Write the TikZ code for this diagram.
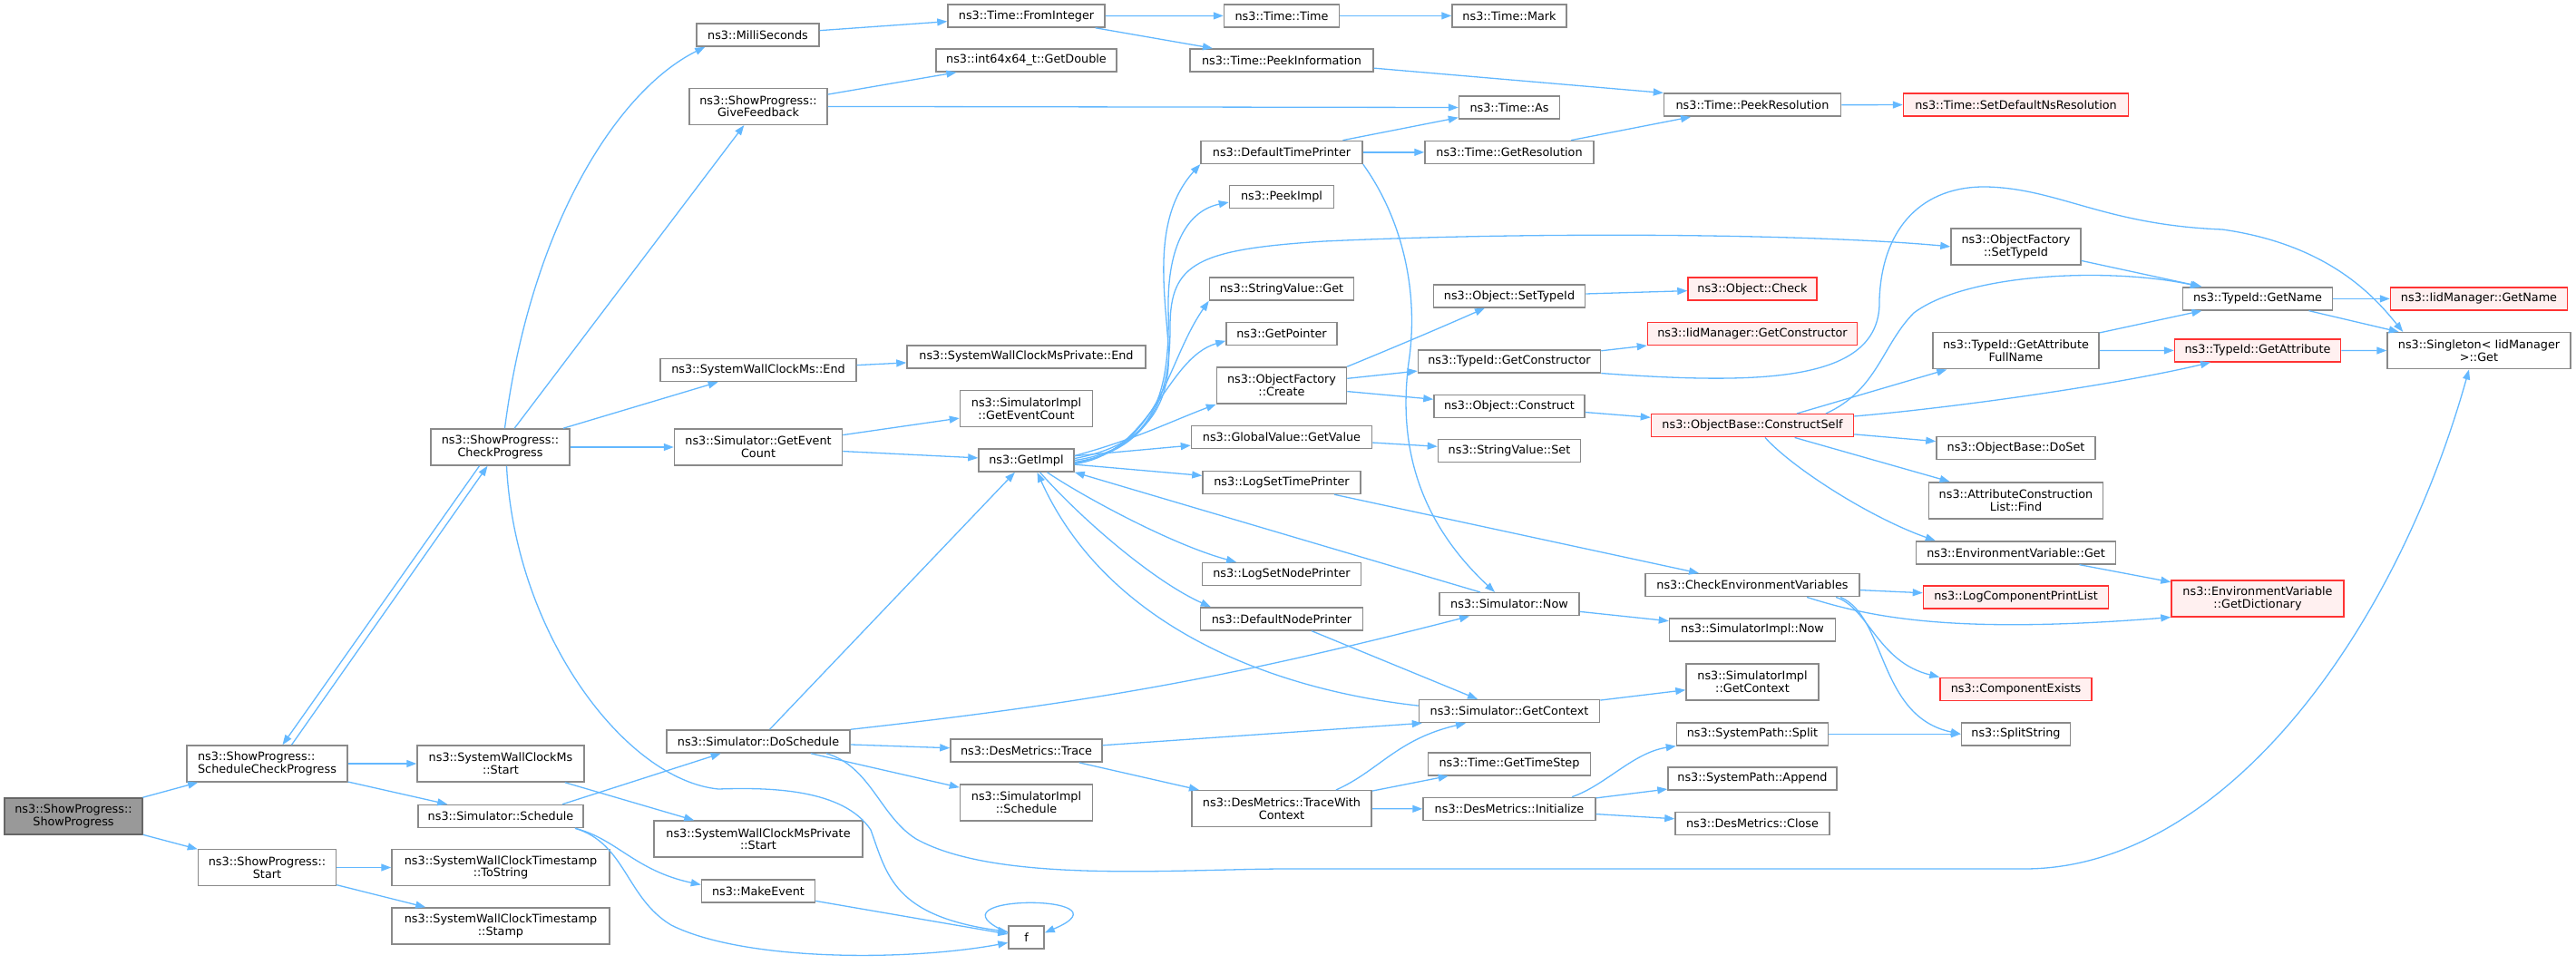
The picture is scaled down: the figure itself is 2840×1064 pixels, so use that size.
\documentclass[tikz,border=0pt]{standalone}
\usepackage{fontspec}
\setmainfont{DejaVu Sans}
\usepackage{xcolor}
\usepackage{tikz}
\usetikzlibrary{arrows.meta}
\definecolor{edgeblue}{HTML}{63B8FF}
\definecolor{boxgray}{HTML}{8A8A8A}
\definecolor{extred}{HTML}{FF3333}
\definecolor{extfill}{HTML}{FFF0F0}
\definecolor{focusfill}{HTML}{999999}
\definecolor{focusline}{HTML}{666666}

\begin{document}
\begin{tikzpicture}[x=1pt, y=-1pt,
  every node/.style={rectangle, draw=boxgray, line width=1.5pt, fill=white, align=center, minimum height=25pt, inner sep=2pt, font=\fontsize{12.8}{13.6}\selectfont},
  two/.style={minimum height=40pt},
  ext/.style={draw=extred, fill=extfill},
  focus/.style={draw=focusline, fill=focusfill},
  call/.style={draw=edgeblue, line width=1.3pt, -{Triangle[length=11pt,width=8pt]}}]
    \useasboundingbox (0,0) rectangle (2840,1064);

    \node [focus, two, minimum width=152pt] (root) at (81,900) {ns3::ShowProgress::\\ShowProgress};
    \node [two, minimum width=177pt, align=left] (scp) at (294.5,842) {ns3::ShowProgress::\\ScheduleCheckProgress};
    \node [two, minimum width=152pt] (start) at (294.5,956.5) {ns3::ShowProgress::\\Start};
    \node [two, minimum width=153pt] (check) at (551.5,493) {ns3::ShowProgress::\\CheckProgress};
    \node [two, minimum width=184pt] (swcms) at (552,842) {ns3::SystemWallClockMs\\::Start};
    \node [minimum width=182pt] (sched) at (552,900) {ns3::Simulator::Schedule};
    \node [two, minimum width=240pt] (tostr) at (552,956.5) {ns3::SystemWallClockTimestamp\\::ToString};
    \node [two, minimum width=240pt] (stamp) at (552,1021) {ns3::SystemWallClockTimestamp\\::Stamp};

    \node [minimum width=135pt] (milli) at (835.5,38.5) {ns3::MilliSeconds};
    \node [two, minimum width=152pt] (givefb) at (836,117.3) {ns3::ShowProgress::\\GiveFeedback};
    \node [minimum width=216pt] (swcend) at (836,408) {ns3::SystemWallClockMs::End};
    \node [two, minimum width=185pt] (getevc) at (836,493) {ns3::Simulator::GetEvent\\Count};
    \node [minimum width=202pt] (doschd) at (836,817.5) {ns3::Simulator::DoSchedule};
    \node [two, minimum width=230pt] (swcpstart) at (836,925.2) {ns3::SystemWallClockMsPrivate\\::Start};
    \node [minimum width=125pt] (mkevent) at (836,982.5) {ns3::MakeEvent};

    \node [minimum width=173pt] (fromint) at (1131.5,17.5) {ns3::Time::FromInteger};
    \node [minimum width=199pt] (getdbl) at (1131.5,66.5) {ns3::int64x64\_t::GetDouble};
    \node [minimum width=263pt] (swcpend) at (1131.5,393.4) {ns3::SystemWallClockMsPrivate::End};
    \node [two, minimum width=146pt] (simgetevc) at (1131.5,450.5) {ns3::SimulatorImpl\\::GetEventCount};
    \node [minimum width=105pt] (getimpl) at (1131.5,507.5) {ns3::GetImpl};
    \node [minimum width=167pt] (trace) at (1131.5,827.6) {ns3::DesMetrics::Trace};
    \node [two, minimum width=146pt] (simschd) at (1131.5,885) {ns3::SimulatorImpl\\::Schedule};
    \node [minimum width=39pt] (f) at (1131.5,1033.4) {f};

    \node [minimum width=127pt] (ttime) at (1413,17.4) {ns3::Time::Time};
    \node [minimum width=202pt] (peekinfo) at (1413,66.5) {ns3::Time::PeekInformation};
    \node [minimum width=178pt] (dtp) at (1413,167.9) {ns3::DefaultTimePrinter};
    \node [minimum width=115pt] (peekimpl) at (1413,217) {ns3::PeekImpl};
    \node [minimum width=159pt] (strget) at (1413,318.5) {ns3::StringValue::Get};
    \node [minimum width=122pt] (getptr) at (1413,367.8) {ns3::GetPointer};
    \node [two, minimum width=143pt] (ofcreate) at (1413,425) {ns3::ObjectFactory\\::Create};
    \node [minimum width=199pt] (gvget) at (1413,482.1) {ns3::GlobalValue::GetValue};
    \node [minimum width=174pt] (logtp) at (1413,532) {ns3::LogSetTimePrinter};
    \node [minimum width=175pt] (lognp) at (1413,633) {ns3::LogSetNodePrinter};
    \node [minimum width=179pt] (dnp) at (1413,682.4) {ns3::DefaultNodePrinter};
    \node [two, minimum width=198pt] (trwc) at (1413,891.7) {ns3::DesMetrics::TraceWith\\Context};

    \node [minimum width=126pt] (tmark) at (1664,17.4) {ns3::Time::Mark};
    \node [minimum width=111pt] (tas) at (1664,118.6) {ns3::Time::As};
    \node [minimum width=186pt] (getres) at (1664,167.9) {ns3::Time::GetResolution};
    \node [minimum width=167pt] (objsettid) at (1664,326.5) {ns3::Object::SetTypeId};
    \node [minimum width=201pt] (tidgetctor) at (1664,398.3) {ns3::TypeId::GetConstructor};
    \node [minimum width=166pt] (objconstr) at (1664,447.9) {ns3::Object::Construct};
    \node [minimum width=157pt] (strset) at (1664,497) {ns3::StringValue::Set};
    \node [minimum width=154pt] (simnow) at (1664,666.2) {ns3::Simulator::Now};
    \node [minimum width=199pt] (simgetctx) at (1664,784.1) {ns3::Simulator::GetContext};
    \node [minimum width=179pt] (gettstep) at (1664,842.3) {ns3::Time::GetTimeStep};
    \node [minimum width=190pt] (dminit) at (1664,891.9) {ns3::DesMetrics::Initialize};

    \node [minimum width=195pt] (peekres) at (1932,115.7) {ns3::Time::PeekResolution};
    \node [ext, minimum width=142pt] (objcheck) at (1932,318.5) {ns3::Object::Check};
    \node [ext, minimum width=231pt] (iidgetctor) at (1932,367.8) {ns3::IidManager::GetConstructor};
    \node [ext, minimum width=223pt] (constrself) at (1932,469.2) {ns3::ObjectBase::ConstructSelf};
    \node [minimum width=236pt] (checkenv) at (1932,645.2) {ns3::CheckEnvironmentVariables};
    \node [minimum width=183pt] (simimplnow) at (1932,694.4) {ns3::SimulatorImpl::Now};
    \node [two, minimum width=146pt] (simimplctx) at (1932,751.9) {ns3::SimulatorImpl\\::GetContext};
    \node [minimum width=167pt] (spsplit) at (1932,809.3) {ns3::SystemPath::Split};
    \node [minimum width=186pt] (spappend) at (1932,858.3) {ns3::SystemPath::Append};
    \node [minimum width=170pt] (dmclose) at (1932,907.9) {ns3::DesMetrics::Close};

    \node [ext, minimum width=248pt] (setdefns) at (2222.5,115.5) {ns3::Time::SetDefaultNsResolution};
    \node [two, minimum width=143pt] (ofsettid) at (2222.5,271.9) {ns3::ObjectFactory\\::SetTypeId};
    \node [two, minimum width=183pt] (tidgafn) at (2222.5,386.7) {ns3::TypeId::GetAttribute\\FullName};
    \node [minimum width=175pt] (doset) at (2222.5,494.2) {ns3::ObjectBase::DoSet};
    \node [two, minimum width=192pt] (aclfind) at (2222.5,551.8) {ns3::AttributeConstruction\\List::Find};
    \node [minimum width=220pt] (envget) at (2222.5,609.4) {ns3::EnvironmentVariable::Get};
    \node [ext, minimum width=204pt] (logcpl) at (2222.5,658.4) {ns3::LogComponentPrintList};
    \node [ext, minimum width=167pt] (compexists) at (2222.5,759.8) {ns3::ComponentExists};
    \node [minimum width=120pt] (splitstr) at (2222.5,809.3) {ns3::SplitString};

    \node [minimum width=165pt] (tidgetname) at (2489,329.4) {ns3::TypeId::GetName};
    \node [ext, minimum width=183pt] (tidgetattr) at (2489,386.3) {ns3::TypeId::GetAttribute};
    \node [ext, two, minimum width=190pt] (envdict) at (2489,659.8) {ns3::EnvironmentVariable\\::GetDictionary};
    \node [ext, minimum width=195pt] (iidgetname) at (2733,329.4) {ns3::IidManager::GetName};
    \node [two, minimum width=202pt] (singleton) at (2733,386.7) {ns3::Singleton< IidManager\\>::Get};

    \draw [call] (root) -- (scp);
    \draw [call] (root) -- (start);
    \draw [call] ([xshift=27pt]scp.north) -- ([xshift=-14pt]check.south);
    \draw [call] ([xshift=-23pt]check.south) -- ([xshift=17pt]scp.north);
    \draw [call] (scp) -- (swcms);
    \draw [call] (scp) -- (sched);
    \draw [call] (start) -- (tostr);
    \draw [call] (start) -- (stamp);
    \draw [call] ([xshift=5pt]check.north) .. controls (585,250) and (680,100) .. ([xshift=10pt]milli.south west);
    \draw [call] (check) -- (givefb);
    \draw [call] (check) -- (swcend);
    \draw [call] (check) -- (getevc);
    \draw [call] ([xshift=7pt]check.south) .. controls (568,700) and (690,860) .. (792,870) .. controls (850,868) and (930,870) .. (960,915) .. controls (978,965) and (985,1010) .. ([yshift=6pt]f.west);
    \draw [call] ([xshift=68pt]sched.north) -- (doschd);
    \draw [call] ([xshift=82pt]sched.south) .. controls (680,925) and (700,960) .. ([yshift=7pt]mkevent.west);
    \draw [call] ([xshift=82pt]sched.south) .. controls (690,930) and (690,990) .. (740,1020) .. controls (820,1060) and (1000,1060) .. ([yshift=-6pt]f.west);
    \draw [call] (swcms) -- (swcpstart);
    \draw [call] (mkevent) -- (f);
    \draw [call] ([yshift=5pt]f.west) .. controls (1010,985) and (1255,985) .. ([yshift=5pt]f.east);

    \draw [call] (milli) -- (fromint);
    \draw [call] (fromint) -- (ttime);
    \draw [call] (fromint) -- (peekinfo);
    \draw [call] (ttime) -- (tmark);
    \draw [call] (peekinfo) -- (peekres.north west);
    \draw [call] (givefb) -- (getdbl);
    \draw [call] (givefb) -- (tas);
    \draw [call] (dtp) -- (tas);
    \draw [call] (dtp) -- (getres);
    \draw [call] (dtp.south east) .. controls (1545,240) and (1565,320) .. (1553,400) .. controls (1540,500) and (1570,580) .. ([xshift=-16pt]simnow.north);
    \draw [call] (getres) -- (peekres);
    \draw [call] (peekres) -- (setdefns);
    \draw [call] (swcend) -- (swcpend);
    \draw [call] (getevc) -- (simgetevc);
    \draw [call] (getevc) -- (getimpl);

    \draw [call] (doschd) -- (getimpl);
    \draw [call] (doschd.north east) to[bend right=4] ([xshift=-44pt]simnow.south);
    \draw [call] (doschd) -- (trace);
    \draw [call] (doschd) -- (simschd);
    \draw [call] ([xshift=75pt]doschd.south) .. controls (960,845) and (970,900) .. (1010,925) .. controls (1100,975) and (1300,958) .. (1420,958) -- (2232,958) .. controls (2450,958) and (2640,700) .. ([xshift=-11pt]singleton.south);
    \draw [call] (trace) -- ([xshift=4pt]simgetctx.south west);
    \draw [call] (trace) -- (trwc);
    \draw [call] ([xshift=60pt]trwc.north) .. controls (1520,850) and (1540,815) .. ([xshift=-48pt]simgetctx.south);
    \draw [call] (trwc) -- (gettstep);
    \draw [call] (trwc) -- (dminit);
    \draw [call] ([xshift=69pt]dminit.north) .. controls (1770,866) and (1800,830) .. (spsplit.south west);
    \draw [call] (dminit) -- (spappend);
    \draw [call] (dminit) -- (dmclose);
    \draw [call] (spsplit) -- (splitstr);
    \draw [call] (simgetctx) -- (simimplctx);
    \draw [call] ([yshift=6pt]simgetctx.west) .. controls (1400,760) and (1220,690) .. ([xshift=12pt]getimpl.south);
    \draw [call] ([xshift=-32pt]simnow.north) -- (getimpl.south east);
    \draw [call] ([xshift=33pt]dnp.south) -- ([xshift=-35pt]simgetctx.north);
    \draw [call] (simnow) -- (simimplnow);
    \draw [call] ([xshift=58pt]logtp.south) -- ([xshift=-59pt]checkenv.north);
    \draw [call] (checkenv) -- (logcpl);
    \draw [call] ([xshift=60pt]checkenv.south) .. controls (2060,680) and (2150,700) .. (envdict.south west);
    \draw [call] ([xshift=92pt]checkenv.south) .. controls (2060,670) and (2070,730) .. (compexists.north west);
    \draw [call] ([xshift=97pt]checkenv.south) .. controls (2080,680) and (2070,790) .. (splitstr.west);

    \draw [call] ([yshift=2pt]getimpl.east) .. controls (1270,490) and (1292,440) .. (1288,380) .. controls (1284,320) and (1270,240) .. (dtp.south west);
    \draw [call] (getimpl.east) .. controls (1275,495) and (1290,430) .. (1288,340) .. controls (1287,270) and (1310,232) .. ([yshift=-6pt]peekimpl.west);
    \draw [call] ([yshift=-2pt]getimpl.east) .. controls (1280,495) and (1290,420) .. (1290,360) .. controls (1290,290) and (1320,275) .. (1460,266) .. controls (1700,255) and (2000,258) .. (ofsettid.west);
    \draw [call] ([yshift=-3pt]getimpl.east) .. controls (1280,495) and (1285,400) .. (strget.south west);
    \draw [call] ([yshift=-4pt]getimpl.east) .. controls (1270,500) and (1285,395) .. ([yshift=-8pt]getptr.west);
    \draw [call] ([yshift=5pt]getimpl.east) .. controls (1250,485) and (1290,465) .. (ofcreate.south west);
    \draw [call] (getimpl) -- (gvget);
    \draw [call] (getimpl) -- (logtp);
    \draw [call] ([xshift=23pt]getimpl.south) .. controls (1190,545) and (1290,600) .. ([xshift=-50pt]lognp.north);
    \draw [call] ([xshift=15pt]getimpl.south) .. controls (1190,570) and (1270,640) .. ([xshift=12pt]dnp.north west);

    \draw [call] (ofcreate.north east) .. controls (1520,390) and (1580,365) .. ([xshift=-27pt]objsettid.south);
    \draw [call] (ofcreate) -- (tidgetctor);
    \draw [call] (ofcreate) -- (objconstr);
    \draw [call] (gvget) -- (strset);
    \draw [call] (objsettid) -- (objcheck);
    \draw [call] (tidgetctor) -- (iidgetctor);
    \draw [call] (tidgetctor.south east) .. controls (1950,425) and (2075,420) .. (2072,330) .. controls (2075,250) and (2120,205) .. (2190,206) .. controls (2270,208) and (2320,248) .. (2450,253) .. controls (2570,270) and (2620,330) .. ([xshift=18pt]singleton.north west);
    \draw [call] (objconstr) -- (constrself);
    \draw [call] ([xshift=81pt]constrself.north) .. controls (2070,430) and (2075,380) .. (2110,345) .. controls (2170,300) and (2330,295) .. ([xshift=20pt]tidgetname.north west);
    \draw [call] ([xshift=49pt]constrself.north) -- ([xshift=16pt]tidgafn.south west);
    \draw [call] ([yshift=-3pt]constrself.north east) .. controls (2150,450) and (2330,425) .. ([xshift=-52pt]tidgetattr.south);
    \draw [call] (constrself) -- (doset);
    \draw [call] (constrself) -- (aclfind);
    \draw [call] ([xshift=14pt]constrself.south) .. controls (1975,515) and (2060,570) .. ([xshift=22pt]envget.north west);
    \draw [call] (envget) -- (envdict);
    \draw [call] (ofsettid) -- (tidgetname);
    \draw [call] (tidgafn) -- (tidgetname);
    \draw [call] (tidgafn) -- (tidgetattr);
    \draw [call] (tidgetname) -- (iidgetname);
    \draw [call] (tidgetname) -- (singleton);
    \draw [call] (tidgetattr) -- (singleton);
\end{tikzpicture}
\end{document}
